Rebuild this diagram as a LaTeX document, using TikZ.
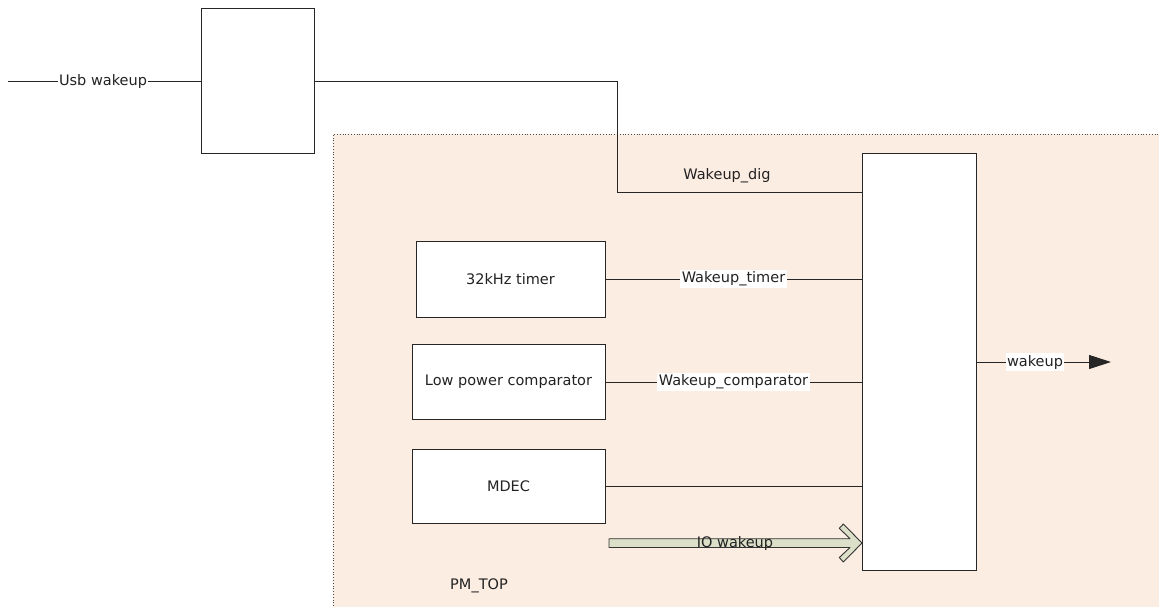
\documentclass[tikz,border=0pt]{standalone}
\usepackage{fontspec}
\setmainfont{DejaVu Sans}
\usetikzlibrary{arrows.meta,shapes.arrows}
\definecolor{peach}{HTML}{FCEDE3}
\definecolor{ioarrow}{HTML}{DCE0C8}
\definecolor{txt}{HTML}{222222}
\tikzset{
  blk/.style={draw=black!85, line width=1pt, fill=white, inner sep=0pt},
  wire/.style={draw=black!85, line width=1pt},
  lbl/.style={font=\fontsize{14.5}{17}\selectfont, text=txt, inner sep=1.5pt},
  wlbl/.style={lbl, fill=white},
}
\begin{document}
\begin{tikzpicture}[x=1pt,y=-1pt]
\useasboundingbox (0,0) rectangle (1159,606);
% PM_TOP region
\begin{scope}
\clip (0,0) rectangle (1159,606);
\fill[peach] (333,134) rectangle (1170,620);
\draw[black!70, dotted, line width=0.8pt] (333,620) -- (333,134) -- (1170,134);
\end{scope}
\node[lbl] (pmtop) at (479,586) {PM\_TOP};
% boxes
\node[blk, minimum width=113pt, minimum height=145pt] (usbbox) at (257.5,80.5) {};
\node[blk, minimum width=114pt, minimum height=417pt] (big) at (919,361.5) {};
\node[blk, minimum width=189pt, minimum height=76pt, lbl] (timer) at (510.5,279) {32kHz timer};
\node[blk, minimum width=193pt, minimum height=75pt, lbl] (comp) at (508.5,382) {Low power comparator};
\node[blk, minimum width=193pt, minimum height=74pt, lbl] (mdec) at (508.5,486) {MDEC};
% usb wakeup input
\coordinate (usbin) at (8,81);
\draw[wire] (usbin) -- (usbbox.west |- usbin);
\node[wlbl] (usblbl) at (103,81) {Usb wakeup};
% wakeup_dig
\coordinate (bend1) at (617,81);
\coordinate (bend2) at (617,192);
\draw[wire] (usbbox.east |- usbin) -- (bend1) -- (bend2) -- (big.west |- bend2);
\node[lbl] (wdig) at (727,176) {Wakeup\_dig};
% timer, comparator, mdec wires
\draw[wire] (timer.east) -- (big.west |- timer.east) node[wlbl, pos=0.5] {Wakeup\_timer};
\draw[wire] (comp.east) -- (big.west |- comp.east) node[wlbl, pos=0.5] {Wakeup\_comparator};
\draw[wire] (mdec.east) -- (big.west |- mdec.east);
% output wakeup
\coordinate (wout) at (1111,362);
\draw[wire, -{Triangle[length=22pt,width=14pt]}] (big.east |- wout) -- (wout);
\node[wlbl] (woutlbl) at (1035,362) {wakeup};
% IO wakeup block arrow
\draw[black!80, line width=0.9pt, fill=ioarrow, line join=round]
  (609,538.7) -- (850,538.7) -- (839.3,528.3) -- (843.3,524) -- (862,543) -- (843.3,562) -- (839.3,557.5) -- (850,547.5) -- (609,547.5) -- cycle;
\node[lbl] (iolbl) at (735,543) {IO wakeup};
\end{tikzpicture}
\end{document}
